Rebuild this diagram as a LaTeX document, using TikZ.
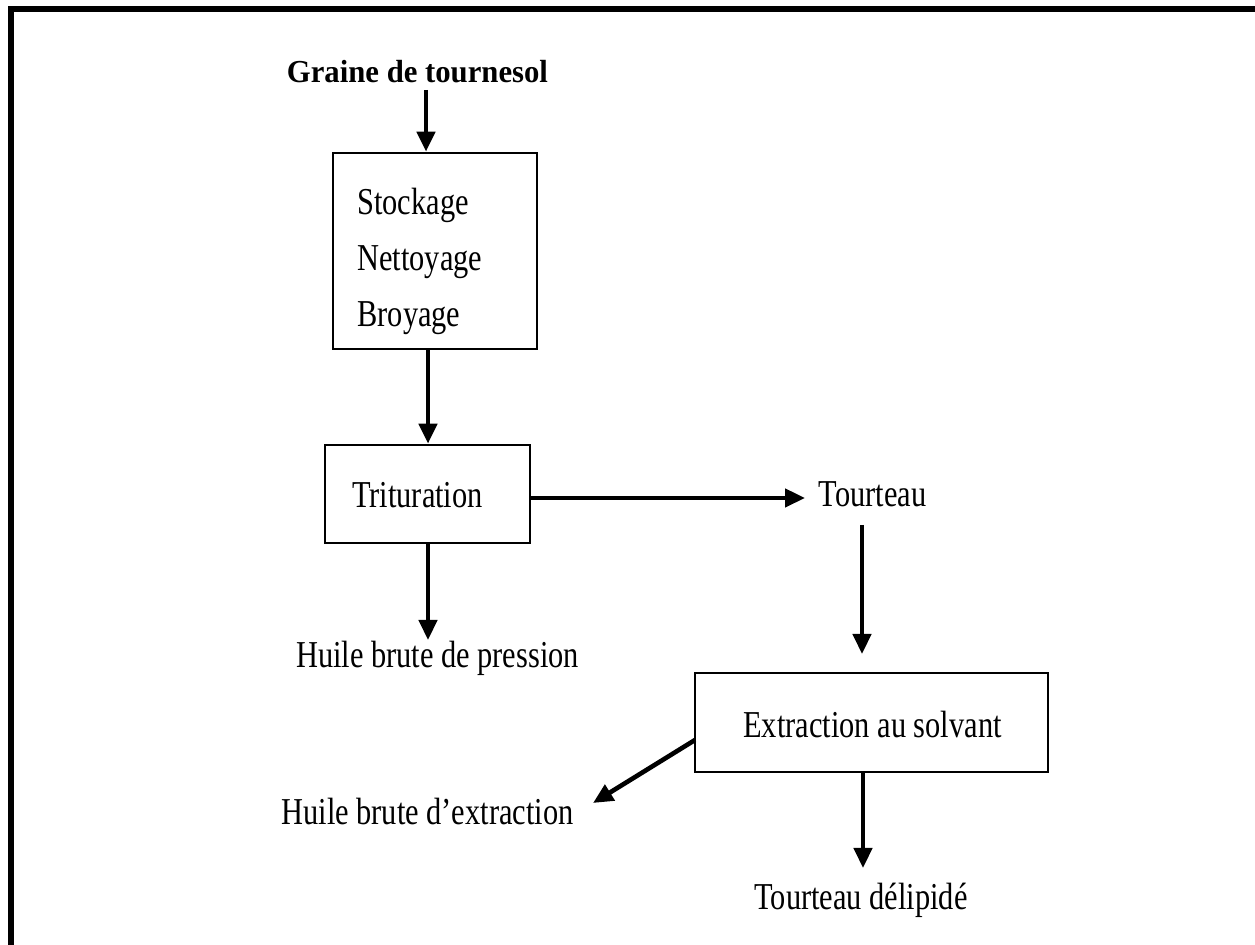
\documentclass[tikz,border=0pt]{standalone}
\usepackage{fontspec}
\setmainfont{Liberation Serif}[FakeStretch=0.8]
\newfontfamily\titlefont{Liberation Serif}[FakeStretch=0.96]
\usetikzlibrary{arrows.meta}
\tikzset{
  box/.style={draw, line width=1.3pt, rectangle, inner sep=0pt},
  txt/.style={inner sep=0pt, anchor=base, font=\fontsize{19}{23}\selectfont},
  arr/.style={line width=2.3pt, -{Triangle[length=10pt,width=9pt]}},
}
\begin{document}
\begin{tikzpicture}[x=0.5pt,y=-0.5pt]
\useasboundingbox (0,0) rectangle (1255,945);
% frame
\draw[line width=3pt] (11,945) -- (11,9) -- (1255,9);
% title
\node[txt, font=\titlefont\bfseries\fontsize{16}{19}\selectfont] (title) at (417.5,83) {Graine de tournesol};
% box 1
\node[box, minimum width=102pt, minimum height=98pt] (b1) at (435,251) {};
\node[txt, anchor=base west] (s1) at (357,215) {Stockage};
\node[txt, anchor=base west] (s2) at (357,271) {Nettoyage};
\node[txt, anchor=base west] (s3) at (357,327) {Broyage};
% box 2
\node[box, minimum width=102.5pt, minimum height=49pt] (b2) at (427.5,494) {};
\node[txt] (t2) at (417.5,508) {Trituration};
% box 3
\node[box, minimum width=176.5pt, minimum height=49.5pt] (b3) at (871.5,722.5) {};
\node[txt] (t3) at (872.5,738) {Extraction au solvant};
% outputs
\node[txt] (tour) at (872.5,507) {Tourteau};
\node[txt] (hp) at (437.5,668) {Huile brute de pression};
\node[txt] (he) at (427.5,825) {Huile brute d’extraction};
\node[txt] (td) at (861,910) {Tourteau délipidé};
% coordinates for arrow ends
\coordinate (a0s) at (426,90);
\coordinate (a2s) at (530,498);
\coordinate (a2e) at (805,498);
\coordinate (a3e) at (428,640);
\coordinate (a4s) at (862,525);
\coordinate (a4e) at (862,654);
\coordinate (a5s) at (695,740);
\coordinate (a5e) at (593,803);
\coordinate (a6e) at (863,868);
% arrows
\draw[arr] (a0s) -- (a0s |- b1.north);
\draw[arr] (b1.south -| 428,0) -- (b2.north -| 428,0);
\draw[arr] (a2s) -- (a2e);
\draw[arr] (b2.south -| a3e) -- (a3e);
\draw[arr] (a4s) -- (a4e);
\draw[arr] (a5s) -- (a5e);
\draw[arr] (b3.south -| a6e) -- (a6e);
\end{tikzpicture}
\end{document}
